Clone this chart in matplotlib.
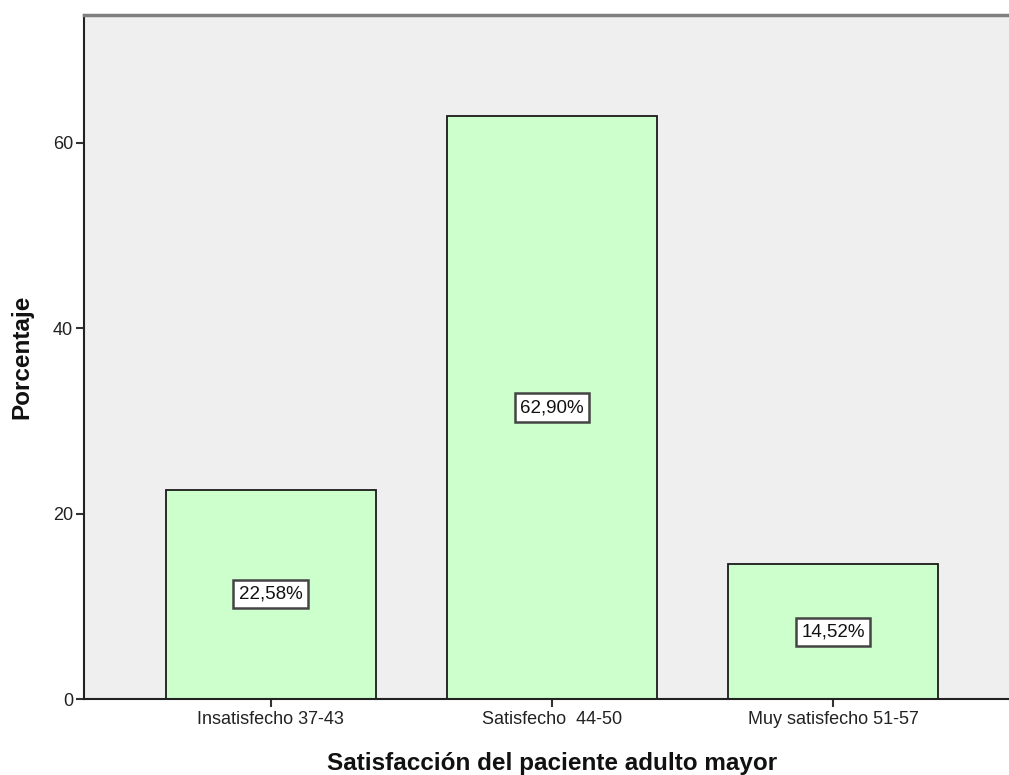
import matplotlib
matplotlib.use("Agg")
import matplotlib.pyplot as plt

plt.rcParams['font.family'] = ['Liberation Sans', 'DejaVu Sans']

# Data
categories = ["Insatisfecho 37-43", "Satisfecho  44-50", "Muy satisfecho 51-57"]
percentages = [22.58, 62.90, 14.52]
y_ticks = [0, 20, 40, 60]

W, H, DPI = 1009, 775, 100
fig = plt.figure(figsize=(W / DPI, H / DPI), dpi=DPI)
fig.patch.set_facecolor("white")

# Axes extends slightly past the right edge of the canvas
left, right, top, bottom = 84, 1020, 15, 699
ax = fig.add_axes([left / W, (H - bottom) / H, (right - left) / W, (bottom - top) / H])
ax.set_facecolor("#EFEFEF")

x = list(range(len(categories)))
bars = ax.bar(x, percentages, width=0.75, color="#CCFFCC", edgecolor="#1a1a1a",
              linewidth=1.3, zorder=2)

for xi, v in zip(x, percentages):
    ax.text(xi, v / 2, f"{v:.2f}".replace(".", ",") + "%", ha="center", va="center",
            fontsize=13.5, color="#111111", zorder=3,
            bbox=dict(boxstyle="square,pad=0.3", facecolor="white",
                      edgecolor="#444444", linewidth=1.8))

ax.set_xlim(-0.665, 2.665)
ax.set_ylim(0, 73.8)
ax.set_xticks(x)
ax.set_xticklabels(categories, fontsize=13, color="#222222")
ax.set_yticks(y_ticks)
ax.set_yticklabels([str(t) for t in y_ticks], fontsize=13, color="#222222")
ax.tick_params(axis="both", direction="out", length=6, width=1.5, color="#333333", pad=2)
ax.tick_params(axis="x", pad=3)

for side in ("left", "bottom"):
    ax.spines[side].set_color("#222222")
    ax.spines[side].set_linewidth(1.5)
ax.spines["top"].set_color("#7f7f7f")
ax.spines["top"].set_linewidth(2.5)
ax.spines["right"].set_visible(False)

ax.set_xlabel("Satisfacción del paciente adulto mayor", fontsize=17.5, fontweight="bold",
              labelpad=17, color="#111111")
ax.set_ylabel("Porcentaje", fontsize=17.5, fontweight="bold", labelpad=14, color="#111111")

fig.savefig("out.png", dpi=DPI)
